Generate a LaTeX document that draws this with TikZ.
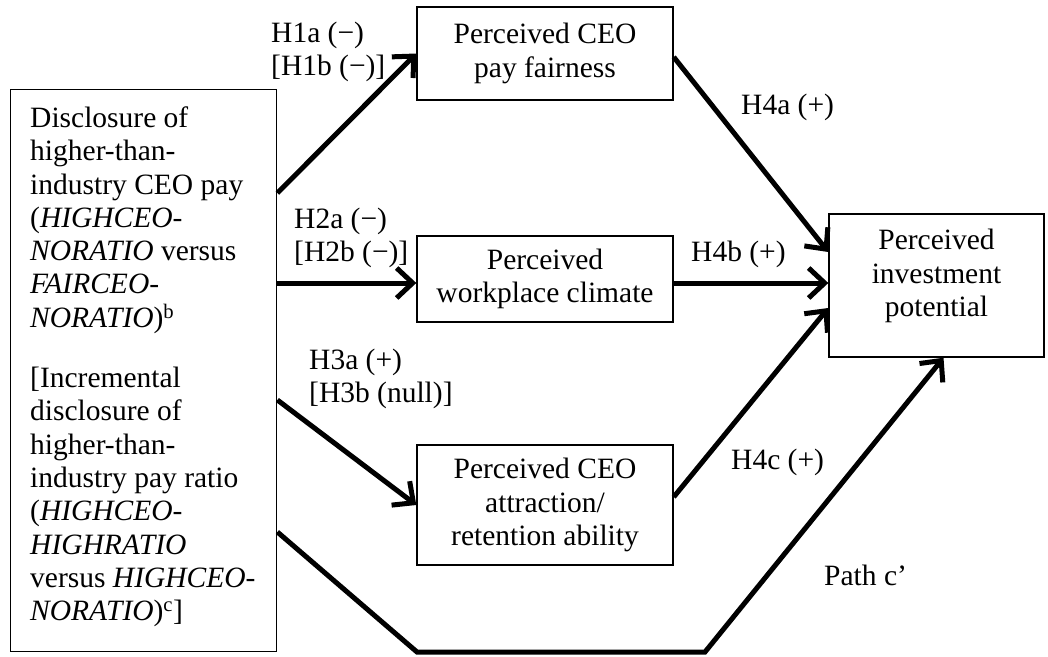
\documentclass[tikz,border=0pt]{standalone}
\usepackage{fontspec}
\setmainfont{Liberation Serif}
\usetikzlibrary{arrows.meta}
\tikzset{
  box/.style={draw=black, line width=1.4pt, align=center, inner sep=0pt},
  conn/.style={line width=5pt, -{Straight Barb[length=16pt,width=30pt]}},
  lbl/.style={align=left, anchor=west, inner sep=0pt},
}
\begin{document}
\begin{tikzpicture}[x=1pt, y=-1pt, font=\fontsize{29.5}{33.3}\selectfont]
\useasboundingbox (0,0) rectangle (1048,656);
% boxes
\node[box, minimum width=266pt, minimum height=562pt, anchor=north west] (L) at (10,89) {};
\node[align=left, inner sep=0pt, anchor=north west] (Ltext) at (30,106.5) {Disclosure of\\
higher-than-\\
industry CEO pay\\
(\textit{HIGHCEO-}\\
\textit{NORATIO} versus\\
\textit{FAIRCEO-}\\
\textit{NORATIO})\textsuperscript{b}\\[27pt]
{[}Incremental\\
disclosure of\\
higher-than-\\
industry pay ratio\\
(\textit{HIGHCEO-}\\
\textit{HIGHRATIO}\\
versus \textit{HIGHCEO-}\\
\textit{NORATIO})\textsuperscript{c}]};
\node[box, minimum width=256pt, minimum height=93pt] (T) at (545,53.5) {Perceived CEO\\pay fairness};
\node[box, minimum width=256pt, minimum height=86pt] (M) at (545,279) {Perceived\\workplace climate};
\node[box, minimum width=256pt, minimum height=120pt] (B) at (545,505) {Perceived CEO\\attraction/\\retention ability};
\node[box, minimum width=215pt, minimum height=143pt] (R) at (936.5,285.5) {Perceived\\investment\\potential\\[-8pt]};
% connectors
\draw[conn] (L.east |- 0,193) -- (T.west);
\draw[conn] (L.east |- 0,283) -- (M.west |- 0,283);
\draw[conn] (L.east |- 0,400) -- (B.west);
\draw[conn] (T.east |- 0,57) -- (R.west |- 0,252);
\draw[conn] (M.east |- 0,283) -- (R.west |- 0,283);
\draw[conn] (B.east |- 0,497) -- (R.west |- 0,308);
\coordinate (p1) at (417,652);
\coordinate (p2) at (705,652);
\draw[conn, line join=miter] (L.east |- 0,532) -- (p1) -- (p2) -- ([xshift=7pt]R.south);
% labels
\node[lbl] (l1) at (271,52) {H1a (−)\\{[}H1b (−)]};
\node[lbl] (l2) at (294,238) {H2a (−)\\{[}H2b (−)]};
\node[lbl] (l3) at (309,379) {H3a (+)\\{[}H3b (null)]};
\node[lbl] (l4) at (741,107) {H4a (+)};
\node[lbl] (l5) at (691,254) {H4b (+)};
\node[lbl] (l6) at (731,462) {H4c (+)};
\node[lbl] (l7) at (824,575) {Path c’};
\end{tikzpicture}
\end{document}
